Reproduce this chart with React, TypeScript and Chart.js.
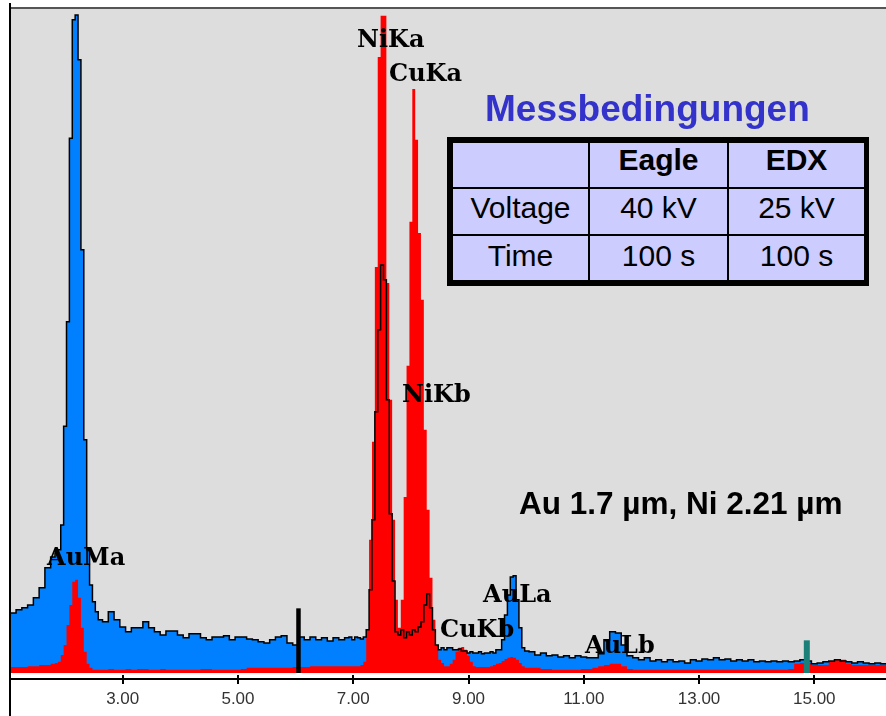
import React, { useEffect, useRef } from 'react';
import { Chart, registerables } from 'chart.js';

Chart.register(...registerables);

// Energy channels (keV)
const energyKeV = [
  1.0, 1.1, 1.2, 1.3, 1.4, 1.5, 1.6, 1.7, 1.8,
  1.85, 1.9, 1.95, 2.0, 2.05, 2.1, 2.15, 2.2, 2.25, 2.3, 2.35, 2.4, 2.45, 2.5, 2.55, 2.6,
  2.7, 2.8, 2.9, 3.0, 3.1, 3.2, 3.3, 3.4, 3.5, 3.6, 3.7, 3.8, 3.9, 4.0, 4.1, 4.2, 4.3, 4.4, 4.5, 4.6,
  4.7, 4.8, 4.9, 5.0, 5.1, 5.2, 5.3, 5.4, 5.5, 5.6, 5.7, 5.8, 5.9, 6.0, 6.1, 6.2, 6.3, 6.4, 6.5, 6.6, 6.7, 6.8,
  6.9, 6.95, 7.0, 7.05, 7.1, 7.15, 7.2, 7.25, 7.3, 7.35, 7.4, 7.45, 7.5, 7.55, 7.6, 7.65, 7.7, 7.75, 7.8, 7.85,
  7.9, 7.95, 8.0, 8.05, 8.1, 8.15, 8.2, 8.25, 8.3, 8.35, 8.4, 8.45, 8.5, 8.55, 8.6, 8.65, 8.7, 8.75, 8.8, 8.85,
  8.9, 8.95, 9.0, 9.05, 9.1, 9.15, 9.2, 9.25, 9.3, 9.35, 9.4, 9.45, 9.5, 9.55, 9.6, 9.65, 9.7, 9.75, 9.8, 9.85,
  9.9, 9.95, 10.0,
  10.1, 10.2, 10.3, 10.4, 10.5, 10.6, 10.7, 10.8, 10.9, 11.0, 11.1, 11.2, 11.3, 11.4, 11.5, 11.6, 11.7, 11.8, 11.9, 12.0,
  12.1, 12.2, 12.3, 12.4, 12.5, 12.6, 12.7, 12.8, 12.9, 13.0, 13.1, 13.2, 13.3, 13.4, 13.5, 13.6, 13.7, 13.8, 13.9, 14.0,
  14.1, 14.2, 14.3, 14.4, 14.5, 14.6, 14.7, 14.8, 14.9, 15.0, 15.1, 15.2, 15.3, 15.4, 15.5, 15.6, 15.7, 15.8, 15.9, 16.0,
  16.1, 16.2, 16.3,
];

// Blue spectrum (Eagle)
const eagleCounts = [
  86, 90, 95, 98, 102, 113, 128, 158, 174,
  180, 185, 222, 370, 527, 802, 980, 987, 920, 635, 350, 185, 132, 107, 92, 80,
  77, 92, 80, 69, 62, 68, 68, 77, 68, 62, 57, 63, 63, 57, 53, 59, 59, 53, 50, 54,
  54, 56, 50, 54, 54, 51, 50, 47, 45, 50, 54, 56, 45, 42, 54, 50, 54, 50, 53, 48, 53, 50,
  53, 54, 50, 54, 53, 51, 54, 65, 125, 230, 392, 515, 612, 590, 410, 239, 138, 62, 57, 65,
  53, 62, 57, 65, 62, 69, 77, 102, 119, 98, 65, 42, 35, 38, 35, 38, 38, 35, 35, 36,
  33, 33, 30, 32, 30, 30, 32, 29, 30, 30, 32, 30, 35, 35, 50, 87, 117, 144, 146, 110,
  68, 38, 33,
  32, 27, 30, 26, 27, 24, 26, 23, 26, 24, 23, 23, 29, 50, 62, 60, 42, 26, 23, 20,
  23, 18, 20, 17, 20, 17, 18, 15, 20, 18, 21, 20, 23, 20, 21, 18, 20, 18, 20, 17,
  18, 17, 18, 17, 18, 17, 18, 20, 18, 14, 15, 17, 18, 20, 18, 17, 15, 17, 15, 14,
  15, 14, 14,
];

// Red spectrum (EDX)
const edxCounts = [
  9, 9, 9, 9, 10, 10, 12, 12, 14,
  15, 17, 27, 42, 72, 102, 137, 140, 113, 68, 32, 14, 8, 5, 5, 5,
  5, 6, 5, 5, 6, 5, 6, 6, 5, 5, 6, 5, 5, 5, 5, 5, 5, 6, 6, 5,
  5, 5, 5, 5, 6, 8, 8, 8, 8, 8, 8, 8, 8, 9, 9, 9, 10, 10, 10, 10, 10, 10,
  10, 10, 10, 10, 10, 12, 17, 65, 200, 347, 609, 924, 986, 986, 585, 410, 230, 110, 68, 110,
  264, 461, 677, 876, 800, 660, 560, 365, 245, 143, 80, 42, 20, 15, 10, 10, 14, 20, 32, 38,
  39, 35, 26, 17, 10, 9, 9, 9, 9, 9, 10, 12, 14, 15, 18, 21, 23, 24, 23, 20,
  15, 10, 8,
  8, 8, 6, 6, 5, 5, 5, 5, 5, 6, 6, 8, 10, 12, 14, 14, 10, 6, 5, 5,
  5, 5, 5, 5, 5, 5, 5, 5, 5, 5, 5, 5, 5, 5, 5, 5, 5, 5, 5, 5,
  5, 5, 5, 5, 5, 6, 14, 15, 15, 12, 12, 12, 18, 20, 20, 14, 12, 12, 12, 12,
  12, 12, 12,
];

const xTickValues = [3, 5, 7, 9, 11, 13, 15];

// Peak labels: text, left edge (keV), baseline height (counts)
const peakLabels = ['AuMa', 'NiKa', 'CuKa', 'NiKb', 'CuKb', 'AuLa', 'AuLb'];
const peakLabelKeV = [1.687, 7.066, 7.621, 7.847, 8.506, 9.253, 11.022];
const peakLabelCounts = [162, 939, 888, 407, 54, 107, 30];

// Cursor markers
const markerKeV = [6.05, 14.87];
const markerCounts = [97, 49];
const markerColors = ['#000000', '#1a8078'];

const tableTitle = 'Messbedingungen';
const tableHeader = ['', 'Eagle', 'EDX'];
const tableRows = [
  ['Voltage', '40 kV', '25 kV'],
  ['Time', '100 s', '100 s'],
];
const sampleNote = 'Au 1.7 µm, Ni 2.21 µm';

const SANS = '"Liberation Sans", Arial, Helvetica, sans-serif';

export default function App() {
  const ref = useRef<HTMLCanvasElement>(null);

  useEffect(() => {
    document.body.style.margin = '0';
    const canvas = ref.current;
    if (!canvas) return;
    const blue = energyKeV.map((x, i) => ({ x, y: eagleCounts[i] }));
    const red = energyKeV.map((x, i) => ({ x, y: edxCounts[i] }));

    const decor = {
      id: 'decor',
      beforeDatasetsDraw(chart: any) {
        const { ctx, chartArea, scales } = chart;
        const y0 = scales.y.getPixelForValue(0);
        ctx.save();
        ctx.fillStyle = '#dddddd';
        ctx.fillRect(chartArea.left, chartArea.top, chartArea.right - chartArea.left, y0 - chartArea.top);
        ctx.restore();
      },
      afterDatasetsDraw(chart: any) {
        const { ctx, chartArea, scales } = chart;
        ctx.save();
        ctx.fillStyle = '#555555';
        ctx.fillRect(chartArea.left, chartArea.top - 2, chartArea.right - chartArea.left, 2);
        ctx.fillStyle = '#000000';
        ctx.fillRect(chartArea.left - 1, 3, 2, chart.height);
        // tick marks crossing the axis line
        xTickValues.forEach((v) => {
          const px = Math.round(scales.x.getPixelForValue(v));
          ctx.fillRect(px - 1, chartArea.bottom - 4, 2, 4);
        });
        ctx.font = 'bold 24px "DejaVu Serif", serif';
        ctx.textAlign = 'left';
        ctx.textBaseline = 'alphabetic';
        peakLabels.forEach((t, i) => {
          ctx.fillText(t, scales.x.getPixelForValue(peakLabelKeV[i]), scales.y.getPixelForValue(peakLabelCounts[i]));
        });
        ctx.restore();
      },
    };

    const markerSets = markerKeV.map((k, i) => ({
      label: 'marker' + i,
      data: [{ x: k, y: 0 }, { x: k, y: markerCounts[i] }],
      borderColor: markerColors[i],
      borderWidth: i === 0 ? 4.5 : 6,
      fill: false,
      pointRadius: 0,
      order: 0,
    }));

    const chart = new Chart(canvas, {
      type: 'line',
      data: {
        datasets: [
          {
            label: 'Eagle fill',
            data: blue,
            borderColor: 'rgba(0,0,0,0)',
            borderWidth: 0,
            backgroundColor: '#0080ff',
            fill: 'origin',
            stepped: 'middle',
            pointRadius: 0,
            order: 3,
          },
          {
            label: 'EDX',
            data: red,
            borderColor: 'rgba(0,0,0,0)',
            borderWidth: 0,
            backgroundColor: '#ff0000',
            fill: 'origin',
            stepped: 'middle',
            pointRadius: 0,
            order: 2,
          },
          {
            label: 'Eagle',
            data: blue,
            borderColor: '#000000',
            borderWidth: 1.5,
            fill: false,
            stepped: 'middle',
            pointRadius: 0,
            order: 1,
          },
          ...markerSets,
        ] as any,
      },
      options: {
        responsive: false,
        animation: false,
        events: [],
        layout: { autoPadding: false, padding: { left: 10, right: 0, top: 9, bottom: 2 } },
        plugins: { legend: { display: false }, tooltip: { enabled: false } },
        elements: { point: { radius: 0 }, line: { tension: 0 } },
        scales: {
          x: {
            type: 'linear',
            min: 1.0445,
            max: 16.244,
            afterBuildTicks: (axis: any) => {
              axis.ticks = xTickValues.map((v) => ({ value: v }));
            },
            ticks: {
              autoSkip: false,
              maxRotation: 0,
              minRotation: 0,
              padding: 4.8,
              color: '#333333',
              font: { family: SANS, size: 17 },
              callback: (v: any) => Number(v).toFixed(2),
            },
            grid: { drawOnChartArea: false, drawTicks: true, tickLength: 5, color: '#000000', lineWidth: 2 },
            border: { display: true, color: '#000000', width: 2 },
          },
          y: { type: 'linear', display: false, min: -9, max: 996 },
        },
      } as any,
      plugins: [decor],
    });
    return () => chart.destroy();
  }, []);

  const cells: { text: string; bold: boolean; pad: number }[] = [];
  tableHeader.forEach((t) => cells.push({ text: t, bold: true, pad: 2 }));
  tableRows.forEach((row, r) => row.forEach((t) => cells.push({ text: t, bold: false, pad: r === 0 ? 4 : 5 })));

  return (
    <div style={{ position: 'absolute', left: 0, top: 0, width: 886, height: 716, overflow: 'hidden', background: '#ffffff' }}>
      <canvas ref={ref} width={886} height={716} style={{ position: 'absolute', left: 0, top: 0, width: 886, height: 716 }} />
      <div
        style={{
          position: 'absolute', left: 485, top: 90, whiteSpace: 'nowrap',
          fontFamily: SANS, fontWeight: 'bold', fontSize: 37, lineHeight: '37px', color: '#3333cc',
        }}
      >
        {tableTitle}
      </div>
      <div style={{ position: 'absolute', left: 447, top: 137, width: 422, height: 149, background: '#000000' }}>
        <div
          style={{
            position: 'absolute', left: 6, top: 6, display: 'grid',
            gridTemplateColumns: '135px 137px 135px', gridTemplateRows: '44px 45px 44px',
            columnGap: 2, rowGap: 2,
          }}
        >
          {cells.map((c, i) => (
            <div
              key={i}
              style={{
                background: '#ccccff', textAlign: 'center', boxSizing: 'border-box', paddingTop: c.pad,
                fontFamily: SANS, fontSize: 30, lineHeight: '30px', fontWeight: c.bold ? 'bold' : 'normal',
                color: '#000000', whiteSpace: 'nowrap',
              }}
            >
              {c.text}
            </div>
          ))}
        </div>
      </div>
      <div
        style={{
          position: 'absolute', left: 519, top: 488, whiteSpace: 'nowrap',
          fontFamily: SANS, fontWeight: 'bold', fontSize: 31.5, lineHeight: '31.5px', color: '#000000',
        }}
      >
        {sampleNote}
      </div>
    </div>
  );
}
